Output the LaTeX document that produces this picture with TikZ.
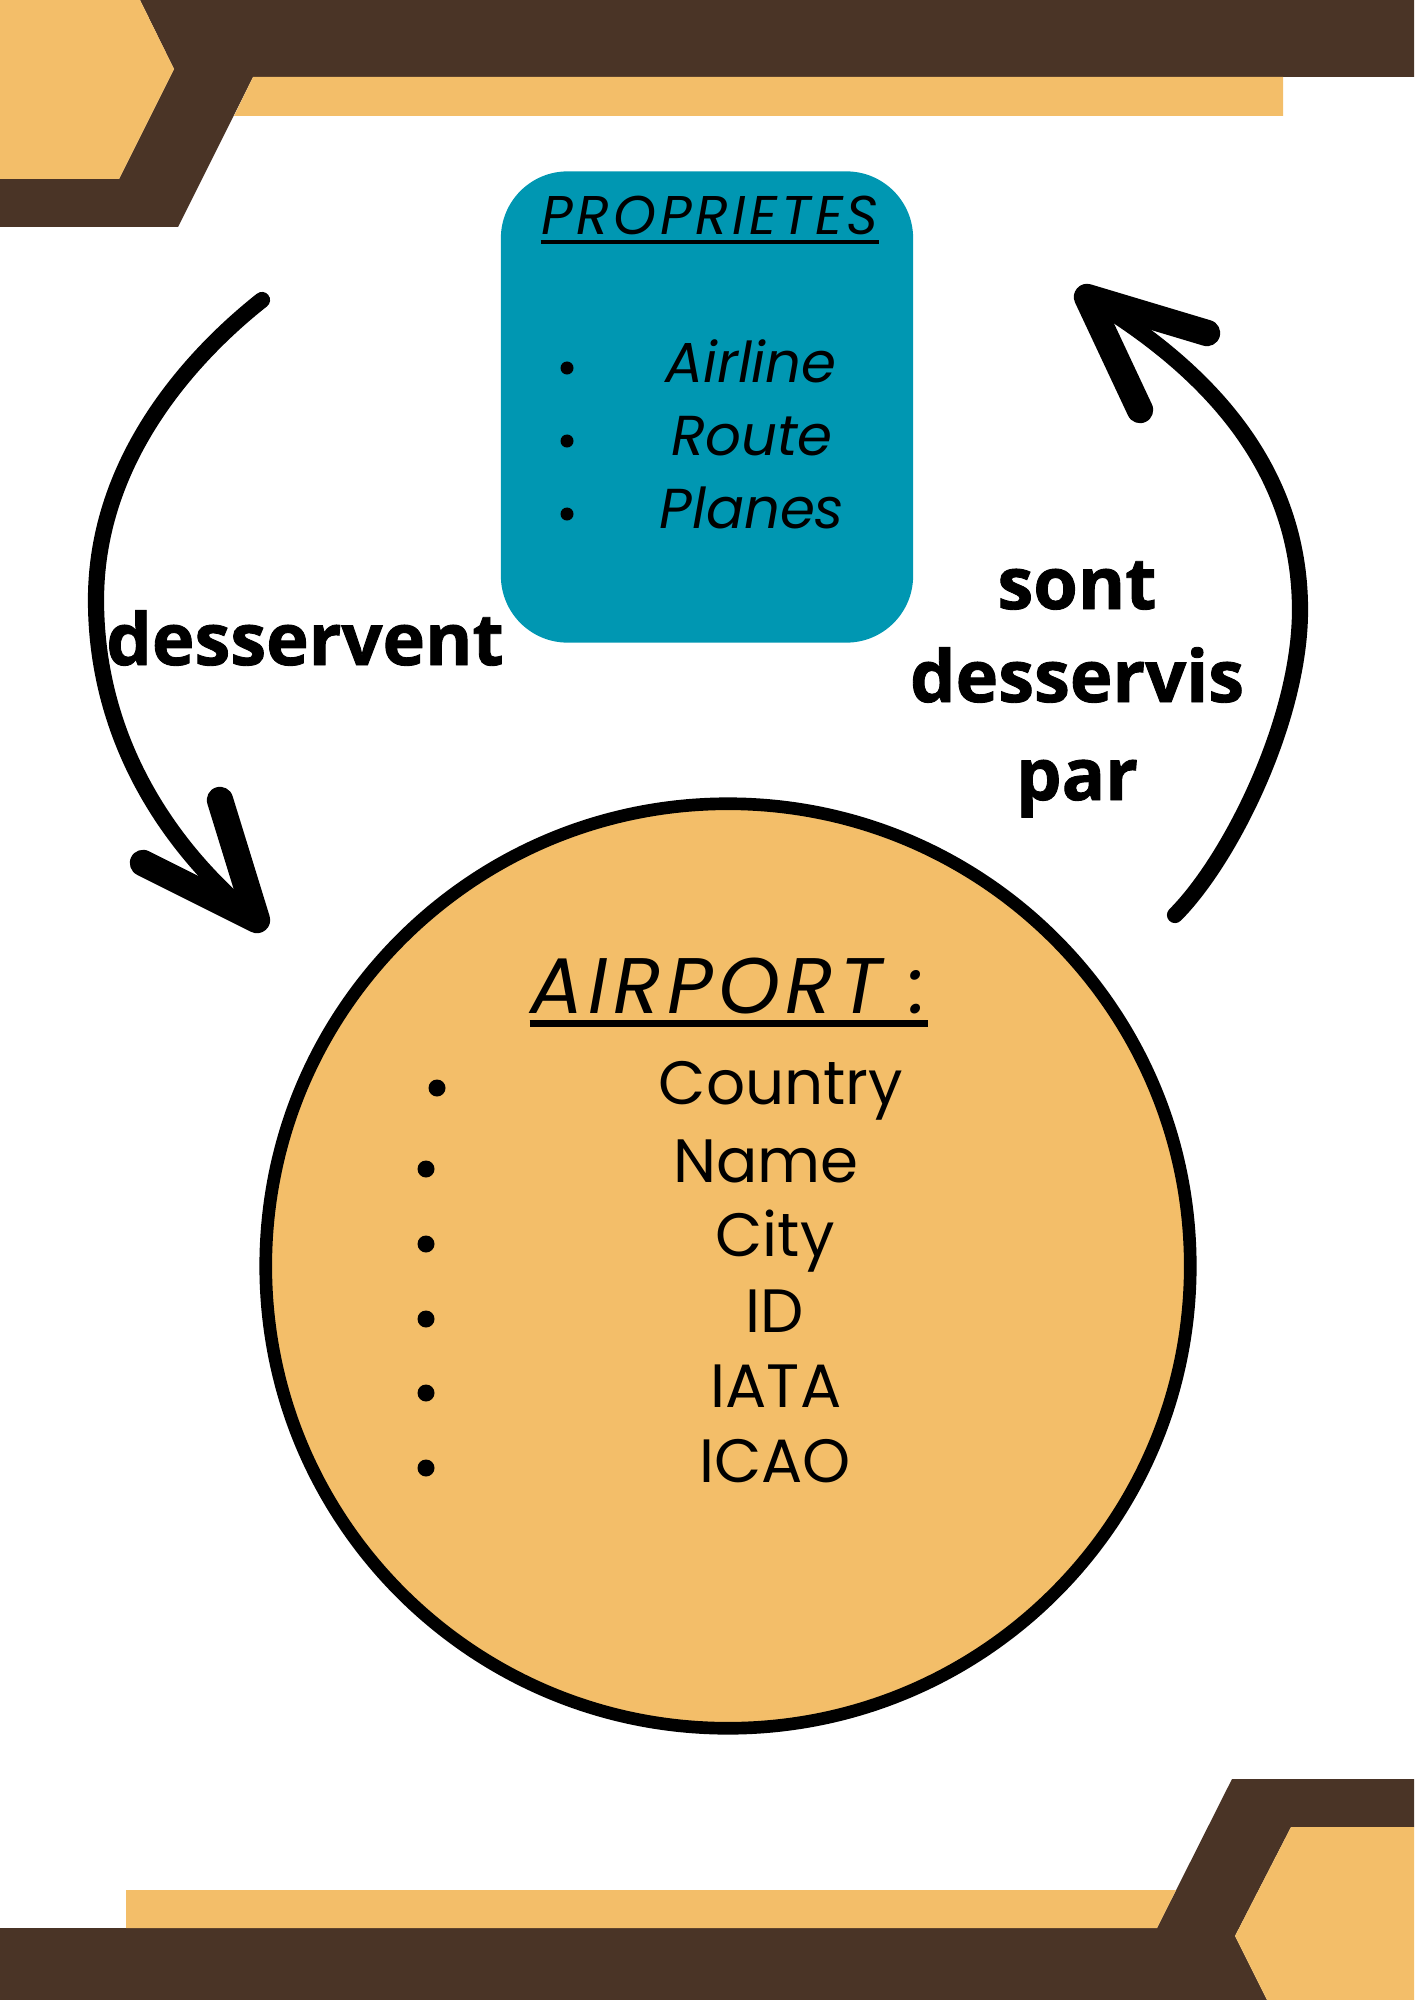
\documentclass[tikz,border=0pt]{standalone}
\usepackage{fontspec}
\usepackage{tikz}
\newfontfamily\geofont{Poppins}
\newfontfamily\geowide[LetterSpace=7]{Poppins}
\newfontfamily\heavyfont[BoldFeatures={FakeBold=1.2}]{Open Sans}
\definecolor{barbrown}{HTML}{4A3426}
\definecolor{barorange}{HTML}{F3BE69}
\definecolor{boxteal}{HTML}{0097B2}

\tikzset{
  propbox/.style={rectangle, rounded corners=19pt, fill=boxteal, minimum width=4.12cm, minimum height=4.71cm},
  airportdisc/.style={circle, draw=black, line width=3.6pt, fill=barorange, minimum size=9.24cm},
  headtext/.style={anchor=base, inner sep=0pt},
  itemtext/.style={anchor=base, inner sep=0pt},
  linktext/.style={anchor=base, inner sep=0pt, align=center, font=\heavyfont\bfseries\fontsize{20.5}{27}\selectfont},
  dot/.style={circle, fill=black, inner sep=0pt},
  uline/.style={line width=#1},
  arrowline/.style={line width=4.6pt, line cap=round},
  arrowhead/.style={line width=7.5pt, line cap=round, line join=round}
}

\begin{document}
\begin{tikzpicture}[x=0.01cm, y=-0.01cm]
        \useasboundingbox (0,0) rectangle (1414,2000);

        % top left banner
        \fill[barbrown] (140,0) -- (1414,0) -- (1414,77) -- (253,77) -- (178,227) -- (0,227) -- (0,179) -- (119,179) -- (174,69) -- cycle;
        \fill[barorange] (0,0) -- (140,0) -- (174,69) -- (119,179) -- (0,179) -- cycle;
        \fill[barorange] (253,77) -- (1283,77) -- (1283,116) -- (234,116) -- cycle;

        % bottom right banner
        \fill[barbrown] (1232,1779) -- (1414,1779) -- (1414,1827) -- (1291,1827) -- (1235,1936) -- (1267,2000) -- (0,2000) -- (0,1928) -- (1157,1928) -- cycle;
        \fill[barorange] (1291,1827) -- (1414,1827) -- (1414,2000) -- (1267,2000) -- (1235,1936) -- cycle;
        \fill[barorange] (126,1890) -- (1176,1890) -- (1157,1928) -- (126,1928) -- cycle;

        % properties box
        \node[propbox] (props) at (707,407) {};
        \node[headtext, font=\geowide\itshape\fontsize{15.5}{18}\selectfont] (propTitle) at (710,235) {PROPRIETES};
        \draw[uline=1.1pt] ([yshift=-0.7mm]propTitle.base west) -- ([yshift=-0.7mm]propTitle.base east);
        \node[dot, minimum size=1.3mm] (propDotA) at (567,368) {};
        \node[dot, minimum size=1.3mm] (propDotB) at (567,441) {};
        \node[dot, minimum size=1.3mm] (propDotC) at (567,514) {};
        \node[itemtext, font=\geofont\itshape\fontsize{16}{19}\selectfont] (propAirline) at (751,382) {Airline};
        \node[itemtext, font=\geofont\itshape\fontsize{16}{19}\selectfont] (propRoute) at (752,455) {Route};
        \node[itemtext, font=\geofont\itshape\fontsize{16}{19}\selectfont] (propPlanes) at (752,528) {Planes};

        % airport circle
        \node[airportdisc] (airport) at (728,1266) {};
        \node[headtext, font=\geowide\itshape\fontsize{22.4}{26}\selectfont] (aptTitle) at (729,1013) {AIRPORT :};
        \draw[uline=2pt] ([yshift=-1mm]aptTitle.base west) -- ([yshift=-1mm]aptTitle.base east);
        \node[dot, minimum size=1.7mm] (aptDotA) at (437,1088) {};
        \node[dot, minimum size=1.7mm] (aptDotB) at (426,1169) {};
        \node[dot, minimum size=1.7mm] (aptDotC) at (426,1244) {};
        \node[dot, minimum size=1.7mm] (aptDotD) at (426,1319) {};
        \node[dot, minimum size=1.7mm] (aptDotE) at (426,1393) {};
        \node[dot, minimum size=1.7mm] (aptDotF) at (426,1468) {};
        \node[itemtext, font=\geofont\fontsize{17.4}{21}\selectfont] (aptCountry) at (781,1104) {Country};
        \node[itemtext, font=\geofont\fontsize{17.4}{21}\selectfont] (aptName) at (766,1182) {Name};
        \node[itemtext, font=\geofont\fontsize{17.4}{21}\selectfont] (aptCity) at (775,1256) {City};
        \node[itemtext, font=\geofont\fontsize{17.4}{21}\selectfont] (aptId) at (775,1332) {ID};
        \node[itemtext, font=\geofont\fontsize{17.4}{21}\selectfont] (aptIata) at (776,1407) {IATA};
        \node[itemtext, font=\geofont\fontsize{17.4}{21}\selectfont] (aptIcao) at (775,1482) {ICAO};

        % desservent (left arrow)
        \coordinate (dsvStart) at (262,300);
        \coordinate (dsvTip) at (257,920);
        \coordinate (dsvBarbA) at (220,800);
        \coordinate (dsvBarbB) at (143,863);
        \draw[arrowline] (dsvStart) .. controls (205,345) and (96,450) .. (96,600) .. controls (96,740) and (170,850) .. (dsvTip);
        \draw[arrowhead] (dsvBarbA) -- (dsvTip) -- (dsvBarbB);
        \node[linktext] (dsvLabel) at (305,665) {desservent};

        % sont desservis par (right arrow)
        \coordinate (sdpStart) at (1175,915);
        \coordinate (sdpTip) at (1087,297);
        \coordinate (sdpBarbA) at (1140,410);
        \coordinate (sdpBarbB) at (1207,333);
        \draw[arrowline] (sdpStart) .. controls (1230,860) and (1300,720) .. (1300,610) .. controls (1300,470) and (1210,370) .. (sdpTip);
        \draw[arrowhead] (sdpBarbA) -- (sdpTip) -- (sdpBarbB);
        \node[linktext] (sdpLine1) at (1077,609) {sont};
        \node[linktext] (sdpLine2) at (1077,702) {desservis};
        \node[linktext] (sdpLine3) at (1077,800) {par};
\end{tikzpicture}
\end{document}
